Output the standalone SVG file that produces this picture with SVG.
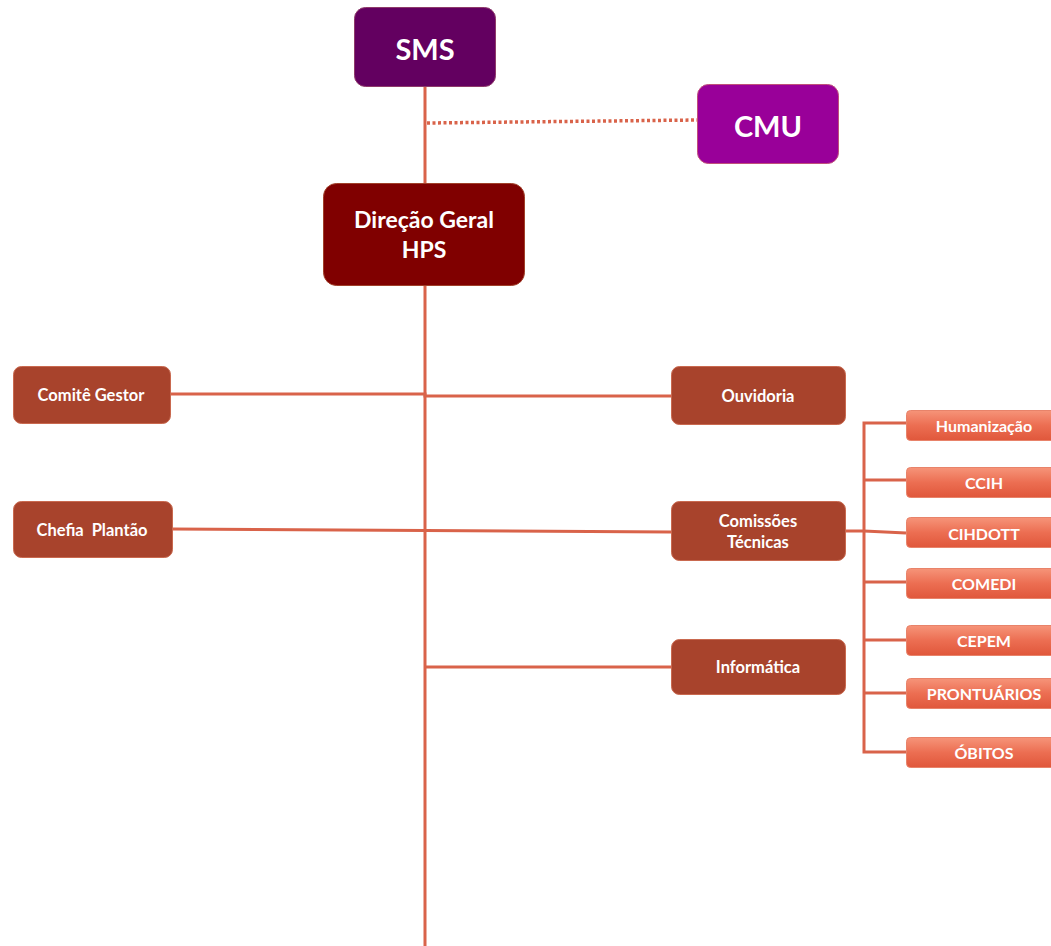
<svg xmlns="http://www.w3.org/2000/svg" width="1051" height="946" viewBox="0 0 1051 946">
<defs>
<linearGradient id="sub" x1="0" y1="0" x2="0" y2="1">
<stop offset="0" stop-color="#F69479"/>
<stop offset="0.5" stop-color="#EC6E52"/>
<stop offset="1" stop-color="#E0573B"/>
</linearGradient>
</defs>
<style>
.ln{stroke:#D9634A;stroke-width:3;fill:none}
.dot{stroke:#D9634A;stroke-width:3.5;fill:none;stroke-dasharray:3 2.5}
.t{font-family:Lato,"Open Sans","Liberation Sans",sans-serif;font-weight:bold;fill:#FFFFFF;text-anchor:middle;dominant-baseline:central}
.m{font-size:16.5px}
.s{font-size:16px}
.mid{fill:#A8432C;stroke:#C9694F;stroke-width:1}
.sb{fill:url(#sub);stroke:#E8836A;stroke-width:1}
</style>
<rect width="1051" height="946" fill="#FFFFFF"/>
<g id="connectors">
<line class="ln" x1="425" y1="86" x2="425" y2="946"/>
<path class="dot" d="M427,123 L697,120"/>
<path class="ln" d="M170,394 L425,394 L425,396 L671,396"/>
<path class="ln" d="M172,529 L671,532"/>
<path class="ln" d="M425,667 L671,667"/>
<path class="ln" d="M845,531 L864,531 L906,533"/>
<path class="ln" d="M906,423 L864,423 L864,752 L906,752"/>
<path class="ln" d="M864,480 L906,480"/>
<path class="ln" d="M864,582 L906,582"/>
<path class="ln" d="M864,640 L906,640"/>
<path class="ln" d="M864,693 L906,693"/>
</g>
<g id="sms">
<rect x="354.5" y="7.5" width="141" height="79" rx="11" fill="#630060" stroke="#8E3A6A" stroke-width="1"/>
<text class="t" x="425" y="48" font-size="29">SMS</text>
</g>
<g id="cmu">
<rect x="697.5" y="84.5" width="141" height="79" rx="11" fill="#990099" stroke="#C0507A" stroke-width="1"/>
<text class="t" x="768" y="125" font-size="29">CMU</text>
</g>
<g id="direcao">
<rect x="323.5" y="183.5" width="201" height="102" rx="13" fill="#800000" stroke="#A0402A" stroke-width="1"/>
<text class="t" x="424" y="219" font-size="23">Direção Geral</text>
<text class="t" x="424" y="249" font-size="23">HPS</text>
</g>
<g id="comite">
<rect class="mid" x="13.5" y="366.5" width="157" height="57" rx="8"/>
<text class="t m" x="91" y="395">Comitê Gestor</text>
</g>
<g id="chefia">
<rect class="mid" x="13.5" y="501.5" width="159" height="56" rx="8"/>
<text class="t m" x="92" y="530" xml:space="preserve">Chefia  Plantão</text>
</g>
<g id="ouvidoria">
<rect class="mid" x="671.5" y="366.5" width="174" height="58" rx="8"/>
<text class="t m" x="758" y="396">Ouvidoria</text>
</g>
<g id="comissoes">
<rect class="mid" x="671.5" y="501.5" width="174" height="59" rx="8"/>
<text class="t m" x="758" y="521">Comissões</text>
<text class="t m" x="758" y="542">Técnicas</text>
</g>
<g id="informatica">
<rect class="mid" x="671.5" y="639.5" width="174" height="55" rx="8"/>
<text class="t m" x="758" y="667">Informática</text>
</g>
<g id="humanizacao">
<rect class="sb" x="906.5" y="410.5" width="156" height="30" rx="4"/>
<text class="t s" x="984" y="425">Humanização</text>
</g>
<g id="ccih">
<rect class="sb" x="906.5" y="467.5" width="156" height="30" rx="4"/>
<text class="t s" x="984" y="482">CCIH</text>
</g>
<g id="cihdott">
<rect class="sb" x="906.5" y="517.5" width="156" height="30" rx="4"/>
<text class="t s" x="984" y="533">CIHDOTT</text>
</g>
<g id="comedi">
<rect class="sb" x="906.5" y="568.5" width="156" height="30" rx="4"/>
<text class="t s" x="984" y="583">COMEDI</text>
</g>
<g id="cepem">
<rect class="sb" x="906.5" y="625.5" width="156" height="30" rx="4"/>
<text class="t s" x="984" y="640">CEPEM</text>
</g>
<g id="prontuarios">
<rect class="sb" x="906.5" y="678.5" width="156" height="30" rx="4"/>
<text class="t s" x="984" y="693">PRONTUÁRIOS</text>
</g>
<g id="obitos">
<rect class="sb" x="906.5" y="737.5" width="156" height="30" rx="4"/>
<text class="t s" x="984" y="752">ÓBITOS</text>
</g>
</svg>
